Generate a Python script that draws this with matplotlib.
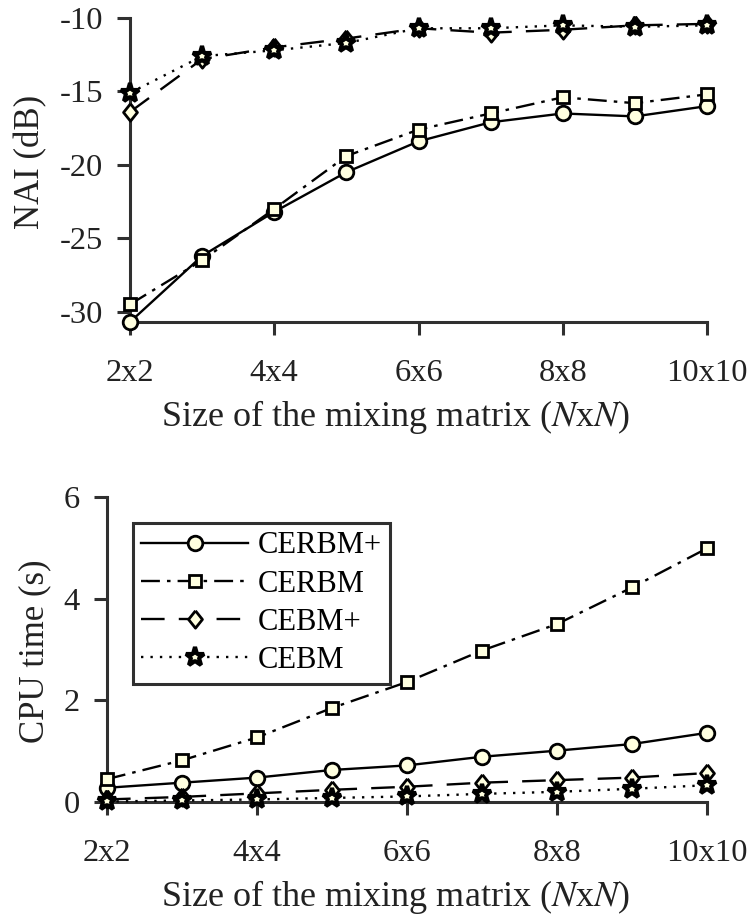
import matplotlib
matplotlib.use("Agg")
import matplotlib.pyplot as plt

plt.rcParams['font.family'] = ['Liberation Serif', 'DejaVu Serif']
plt.rcParams['mathtext.fontset'] = 'stix'
plt.rcParams['axes.unicode_minus'] = False

x = list(range(2, 11))
tick_labels = ["2x2", "4x4", "6x6", "8x8", "10x10"]
tick_pos = [2, 4, 6, 8, 10]

# NAI (dB)
nai_cerbm_plus = [-30.7, -26.2, -23.2, -20.5, -18.4, -17.1, -16.5, -16.7, -16.0]
nai_cerbm = [-29.5, -26.5, -23.0, -19.4, -17.6, -16.5, -15.4, -15.8, -15.2]
nai_cebm_plus = [-16.4, -12.8, -12.0, -11.4, -10.7, -11.0, -10.8, -10.5, -10.4]
nai_cebm = [-15.1, -12.6, -12.2, -11.7, -10.7, -10.7, -10.5, -10.6, -10.5]

# CPU time (s)
cpu_cerbm_plus = [0.28, 0.38, 0.48, 0.63, 0.72, 0.89, 1.01, 1.14, 1.36]
cpu_cerbm = [0.45, 0.82, 1.27, 1.85, 2.36, 2.98, 3.50, 4.22, 4.99]
cpu_cebm_plus = [0.05, 0.10, 0.17, 0.24, 0.30, 0.38, 0.43, 0.48, 0.57]
cpu_cebm = [0.01, 0.03, 0.05, 0.08, 0.11, 0.16, 0.20, 0.26, 0.33]

names = ["CERBM+", "CERBM", "CEBM+", "CEBM"]
face = "#ffffe0"
diamond = [(0, 1), (0.8, 0), (0, -1), (-0.8, 0), (0, 1)]
styles = [
    dict(ls="-", marker="o", ms=10.5, mew=2.0),
    dict(ls=(0, (8, 3, 1.5, 3)), marker="s", ms=8.5, mew=2.0),
    dict(ls=(0, (10, 6)), marker=diamond, ms=12.5, mew=2.0),
    dict(ls=(0, (1, 3)), marker="*", ms=14, mew=3.0),
]
spine_col = "#303030"
txt_col = "#222222"
fs_tick = 23.4
fs_lab = 25
fs_xlab = 26

fig = plt.figure(figsize=(7.53, 9.18), dpi=100)
ax1 = fig.add_axes([130/753, 1-322/918, 577/753, 304/918])
ax2 = fig.add_axes([107/753, 1-802/918, 600/753, 305/918])


def style_ax(ax):
    for s in ["top", "right"]:
        ax.spines[s].set_visible(False)
    for s in ["left", "bottom"]:
        ax.spines[s].set_color(spine_col)
        ax.spines[s].set_linewidth(2.2)
    ax.tick_params(direction="out", length=9.4, width=2.2, color=spine_col,
                   labelsize=fs_tick, labelcolor=txt_col)
    ax.tick_params(axis="x", pad=17.5)
    ax.tick_params(axis="y", pad=10)
    ax.set_xlim(2, 10)
    ax.set_xticks(tick_pos)
    ax.set_xticklabels(tick_labels)
    ax.set_xlabel("Size of the mixing matrix ($N$x$N$)", fontsize=fs_xlab,
                  color=txt_col)


for ys, st, nm in zip([nai_cerbm_plus, nai_cerbm, nai_cebm_plus, nai_cebm], styles, names):
    ax1.plot(x, ys, color="black", lw=1.7, mfc=face, mec="black",
             clip_on=False, label=nm, zorder=3, **st)
ax1.set_ylim(-30.7, -10)
ax1.set_yticks([-30, -25, -20, -15, -10])
ax1.set_ylabel("NAI (dB)", fontsize=fs_lab, color=txt_col)
style_ax(ax1)
ax1.xaxis.set_label_coords(0.46, -0.25)
ax1.yaxis.set_label_coords(-0.143, 0.525)

for ys, st, nm in zip([cpu_cerbm_plus, cpu_cerbm, cpu_cebm_plus, cpu_cebm], styles, names):
    ax2.plot(x, ys, color="black", lw=1.7, mfc=face, mec="black",
             clip_on=False, label=nm, zorder=3, **st)
ax2.set_ylim(0, 6)
ax2.set_yticks([0, 2, 4, 6])
ax2.set_ylabel("CPU time (s)", fontsize=fs_lab, color=txt_col)
style_ax(ax2)
ax2.xaxis.set_label_coords(0.481, -0.249)
ax2.yaxis.set_label_coords(-0.093, 0.495)

leg = ax2.legend(loc="upper left", bbox_to_anchor=(0.043, 0.915), borderaxespad=0,
                 fontsize=22, fancybox=False, framealpha=1, edgecolor=spine_col,
                 handlelength=3.5, handletextpad=0.3, borderpad=0.28,
                 labelspacing=0.3)
leg.get_frame().set_linewidth(2.2)

fig.savefig("out.png", dpi=100)
